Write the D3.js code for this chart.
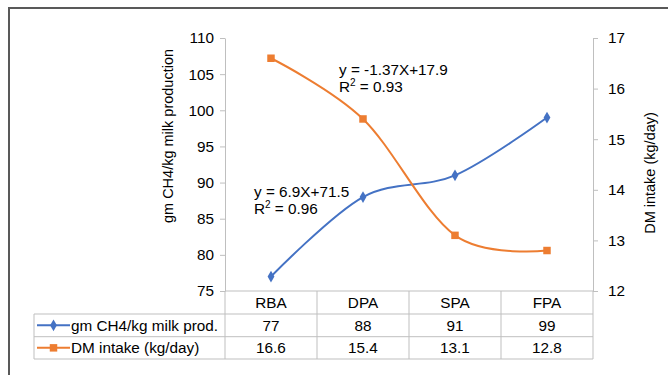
<!DOCTYPE html>
<html>
<head>
<meta charset="utf-8">
<script src="https://cdn.jsdelivr.net/npm/d3@7"></script>
<style>
  html, body { margin: 0; padding: 0; background: #fff; }
  svg { display: block; font-family: "Liberation Sans", Arial, sans-serif; }
</style>
</head>
<body>
<svg id="chart" width="668" height="375"></svg>
<script>
const categories = ["RBA", "DPA", "SPA", "FPA"];
const ch4Values = [77, 88, 91, 99];
const dmValues = [16.6, 15.4, 13.1, 12.8];
const leftTicks = [75, 80, 85, 90, 95, 100, 105, 110];
const rightTicks = [12, 13, 14, 15, 16, 17];
const seriesNames = ["gm CH4/kg milk prod.", "DM intake (kg/day)"];
const ch4Label = ["y = 6.9X+71.5", "R2 = 0.96"];
const dmLabel = ["y = -1.37X+17.9", "R2 = 0.93"];

const blue = "#4472C4", orange = "#ED7D31", gridC = "#BFBFBF", txt = "#000";
const fs = 15.3, fsTitle = 14.5;

const svg = d3.select("#chart");

// outer border
svg.append("rect").attr("x", 9).attr("y", 8).attr("width", 700).attr("height", 400)
  .attr("fill", "none").attr("stroke", "#595959").attr("stroke-width", 2);

const pLeft = 225, pRight = 593, pTop = 38, pBottom = 291;
const x = d3.scaleBand().domain(categories).range([pLeft, pRight]);
const yL = d3.scaleLinear().domain([75, 110]).range([pBottom, pTop]);
const yR = d3.scaleLinear().domain([12, 17]).range([pBottom, pTop]);

// left axis
const gL = svg.append("g").attr("transform", `translate(${pLeft},0)`)
  .call(d3.axisLeft(yL).tickValues(leftTicks).tickSize(5).tickSizeOuter(0).tickPadding(6));
gL.select(".domain").attr("stroke", gridC);
gL.selectAll(".tick line").attr("stroke", gridC);
gL.selectAll(".tick text").attr("font-size", fs).attr("fill", txt)
  .attr("font-family", "Liberation Sans, Arial, sans-serif");

// right axis
const gR = svg.append("g").attr("transform", `translate(${pRight},0)`)
  .call(d3.axisRight(yR).tickValues(rightTicks).tickFormat(d3.format("d")).tickSize(5).tickSizeOuter(0).tickPadding(10));
gR.select(".domain").attr("stroke", gridC);
gR.selectAll(".tick line").attr("stroke", gridC);
gR.selectAll(".tick text").attr("font-size", fs).attr("fill", txt)
  .attr("font-family", "Liberation Sans, Arial, sans-serif");

// axis titles
svg.append("text").attr("transform", "translate(173,136) rotate(-90)")
  .attr("text-anchor", "middle").attr("font-size", fsTitle).attr("fill", txt)
  .text("gm CH4/kg milk production");
svg.append("text").attr("transform", "translate(655,173) rotate(-90)")
  .attr("text-anchor", "middle").attr("font-size", fsTitle).attr("fill", txt)
  .text("DM intake (kg/day)");

// data table
const rowTop = pBottom, r1 = 314, r2 = 336.7, r3 = 359, tableLeft = 34;
const tg = svg.append("g").attr("stroke", gridC).attr("stroke-width", 1).attr("fill", "none");
tg.append("line").attr("x1", pLeft).attr("x2", pRight).attr("y1", rowTop).attr("y2", rowTop);
[r1, r2, r3].forEach(yy => tg.append("line").attr("x1", tableLeft).attr("x2", pRight).attr("y1", yy).attr("y2", yy));
tg.append("line").attr("x1", tableLeft).attr("x2", tableLeft).attr("y1", r1).attr("y2", r3);
categories.forEach(c => tg.append("line").attr("x1", x(c)).attr("x2", x(c)).attr("y1", rowTop).attr("y2", r3));
tg.append("line").attr("x1", pRight).attr("x2", pRight).attr("y1", rowTop).attr("y2", r3);

const cx = c => x(c) + x.bandwidth() / 2;
svg.append("g").selectAll("text").data(categories).join("text")
  .attr("x", cx).attr("y", 308).attr("text-anchor", "middle").attr("font-size", fs).attr("fill", txt)
  .text(d => d);
svg.append("g").selectAll("text").data(ch4Values).join("text")
  .attr("x", (d, i) => cx(categories[i])).attr("y", 330.5).attr("text-anchor", "middle")
  .attr("font-size", fs).attr("fill", txt).text(d => d);
svg.append("g").selectAll("text").data(dmValues).join("text")
  .attr("x", (d, i) => cx(categories[i])).attr("y", 353).attr("text-anchor", "middle")
  .attr("font-size", fs).attr("fill", txt).text(d => d3.format(".1f")(d));

// legend keys in table
const diamond = d3.symbol().type(d3.symbolDiamond).size(40);
const square = d3.symbol().type(d3.symbolSquare).size(56);
const ly1 = (r1 + r2) / 2, ly2 = (r2 + r3) / 2;
svg.append("line").attr("x1", 37).attr("x2", 70).attr("y1", ly1).attr("y2", ly1).attr("stroke", blue).attr("stroke-width", 2);
svg.append("path").attr("d", diamond).attr("transform", `translate(53.5,${ly1})`).attr("fill", blue);
svg.append("line").attr("x1", 37).attr("x2", 70).attr("y1", ly2).attr("y2", ly2).attr("stroke", orange).attr("stroke-width", 2);
svg.append("path").attr("d", square).attr("transform", `translate(53.5,${ly2})`).attr("fill", orange);
svg.append("text").attr("x", 71).attr("y", 330.5).attr("font-size", fs).attr("fill", txt).text(seriesNames[0]);
svg.append("text").attr("x", 71).attr("y", 353).attr("font-size", fs).attr("fill", txt).text(seriesNames[1]);

// lines
const curve = d3.curveCardinal.tension(0);
const lineL = d3.line().x((d, i) => cx(categories[i])).y(d => yL(d)).curve(curve);
const lineR = d3.line().x((d, i) => cx(categories[i])).y(d => yR(d)).curve(curve);
svg.append("path").attr("d", lineL(ch4Values)).attr("fill", "none").attr("stroke", blue).attr("stroke-width", 2);
svg.append("path").attr("d", lineR(dmValues)).attr("fill", "none").attr("stroke", orange).attr("stroke-width", 2);
svg.append("g").selectAll("path").data(ch4Values).join("path")
  .attr("d", diamond).attr("transform", (d, i) => `translate(${cx(categories[i])},${yL(d)})`).attr("fill", blue);
svg.append("g").selectAll("path").data(dmValues).join("path")
  .attr("d", square).attr("transform", (d, i) => `translate(${cx(categories[i])},${yR(d)})`).attr("fill", orange);

// trendline labels
function eqLabel(lines, x0, y0) {
  const g = svg.append("g");
  g.append("text").attr("x", x0).attr("y", y0).attr("font-size", fs).attr("fill", txt).text(lines[0]);
  const t2 = g.append("text").attr("x", x0).attr("y", y0 + 16.5).attr("font-size", fs).attr("fill", txt);
  t2.append("tspan").text("R");
  t2.append("tspan").attr("font-size", 10).attr("dy", -5.5).text("2");
  t2.append("tspan").attr("dy", 5.5).text(lines[1].slice(2));
}
eqLabel(dmLabel, 339, 75);
eqLabel(ch4Label, 254, 197);
</script>
</body>
</html>
